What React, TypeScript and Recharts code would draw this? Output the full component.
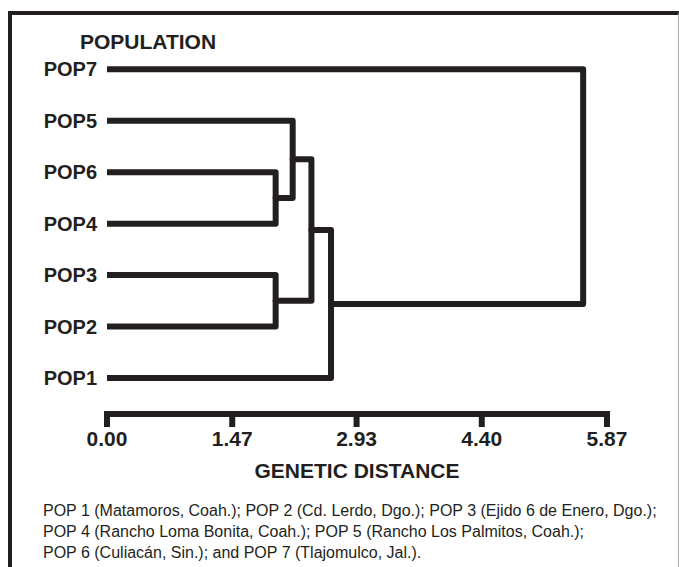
import { ScatterChart, Scatter, XAxis, YAxis, Label } from "recharts";

// leaves listed top to bottom
const leaves = ["POP7", "POP5", "POP6", "POP4", "POP3", "POP2", "POP1"];
// each merge joins a left and a right member; clusters are named C1..C6 in order
const mergeLeft = ["POP6", "POP5", "POP3", "C2", "C4", "POP7"];
const mergeRight = ["POP4", "C1", "POP2", "C3", "POP1", "C5"];
const mergeHeights = [1.98, 2.18, 1.98, 2.4, 2.63, 5.59];
const xTicks = [0, 1.47, 2.93, 4.4, 5.87];
const yTicks = [0, 1, 2, 3, 4, 5, 6];
const footnote = [
  "POP 1 (Matamoros, Coah.); POP 2 (Cd. Lerdo, Dgo.); POP 3 (Ejido 6 de Enero, Dgo.);",
  "POP 4 (Rancho Loma Bonita, Coah.); POP 5 (Rancho Los Palmitos, Coah.);",
  "POP 6 (Culiacán, Sin.); and POP 7 (Tlajomulco, Jal.).",
];

const INK = "#231f20";
const FONT = "'Liberation Sans', Arial, sans-serif";

function buildLinks() {
  const pos: Record<string, { x: number; y: number }> = {};
  leaves.forEach((name, i) => {
    pos[name] = { x: 0, y: leaves.length - 1 - i };
  });
  return mergeHeights.map((h, i) => {
    const a = pos[mergeLeft[i]];
    const b = pos[mergeRight[i]];
    pos["C" + (i + 1)] = { x: h, y: (a.y + b.y) / 2 };
    return [
      { x: a.x, y: a.y },
      { x: h, y: a.y },
      { x: h, y: b.y },
      { x: b.x, y: b.y },
    ];
  });
}

const links = buildLinks();

export default function App() {
  return (
    <div
      style={{
        position: "fixed",
        left: 8,
        top: 11,
        width: 671,
        height: 570,
        boxSizing: "border-box",
        borderTop: `4px solid ${INK}`,
        borderLeft: `4px solid ${INK}`,
        borderRight: "1px solid #aaa",
        background: "#fff",
        fontFamily: FONT,
        color: INK,
      }}
    >
      <div
        style={{
          position: "absolute",
          left: 68,
          top: 15,
          fontSize: 21,
          fontWeight: 700,
          lineHeight: "24px",
        }}
      >
        POPULATION
      </div>
      <div style={{ position: "absolute", left: 0, top: 0 }}>
        <ScatterChart width={666} height={469} margin={{ top: 44, right: 71, bottom: 0, left: 0 }}>
          <XAxis
            type="number"
            dataKey="x"
            domain={[0, 5.87]}
            ticks={xTicks}
            allowDataOverflow
            interval={0}
            tickFormatter={(v: number) => v.toFixed(2)}
            axisLine={{ stroke: INK, strokeWidth: 6, strokeLinecap: "square" }}
            tickLine={{ stroke: INK, strokeWidth: 6 }}
            tickSize={13}
            tickMargin={4}
            height={70}
            tick={{ fill: INK, fontSize: 21, fontWeight: 700, fontFamily: FONT }}
          >
            <Label
              value="GENETIC DISTANCE"
              position="insideBottom"
              offset={6}
              style={{ fill: INK, fontSize: 21, fontWeight: 700, fontFamily: FONT }}
            />
          </XAxis>
          <YAxis
            type="number"
            dataKey="y"
            domain={[-0.7, 6.2]}
            ticks={yTicks}
            allowDataOverflow
            interval={0}
            width={95}
            axisLine={false}
            tickLine={false}
            tickSize={6}
            tickMargin={4}
            tickFormatter={(v: number) => leaves[leaves.length - 1 - v]}
            tick={{ fill: INK, fontSize: 20, fontWeight: 700, fontFamily: FONT }}
          />
          {links.map((pts, i) => (
            <Scatter
              key={i}
              data={pts}
              isAnimationActive={false}
              fill={INK}
              line={{ stroke: INK, strokeWidth: 6, strokeLinejoin: "round", strokeLinecap: "round" }}
              lineType="joint"
              shape={() => <g />}
            />
          ))}
        </ScatterChart>
      </div>
      <div
        style={{
          position: "absolute",
          left: 31,
          top: 485,
          fontSize: 16,
          lineHeight: "21px",
          whiteSpace: "nowrap",
        }}
      >
        {footnote.map((line, i) => (
          <div key={i}>{line}</div>
        ))}
      </div>
    </div>
  );
}
